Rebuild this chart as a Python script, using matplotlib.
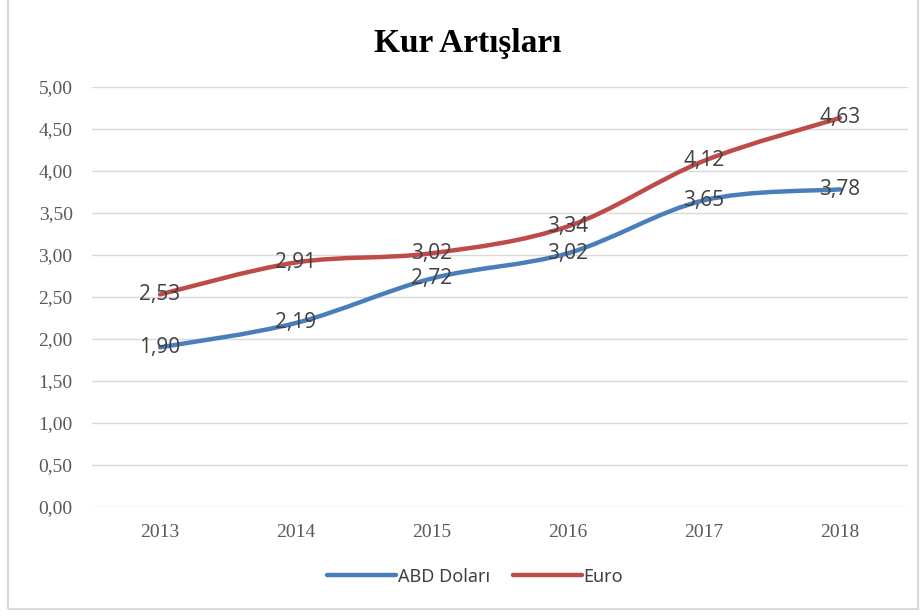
import numpy as np
import matplotlib.pyplot as plt
from matplotlib.path import Path
from matplotlib.patches import PathPatch, Rectangle
from matplotlib.lines import Line2D

years = ["2013", "2014", "2015", "2016", "2017", "2018"]
usd = [1.90, 2.19, 2.72, 3.02, 3.65, 3.78]
eur = [2.53, 2.91, 3.02, 3.34, 4.12, 4.63]
series_names = ["ABD Doları", "Euro"]
yticks = [0.0, 0.5, 1.0, 1.5, 2.0, 2.5, 3.0, 3.5, 4.0, 4.5, 5.0]

BLUE = "#4A7EBB"
RED = "#BE4B48"


def smooth_path(xs, ys):
    # Catmull-Rom style cubic Bezier through the points (like Excel smoothing)
    pts = np.column_stack([xs, ys]).astype(float)
    n = len(pts)
    verts = [pts[0]]
    codes = [Path.MOVETO]
    for i in range(n - 1):
        p0 = pts[i - 1] if i > 0 else pts[i]
        p1 = pts[i]
        p2 = pts[i + 1]
        p3 = pts[i + 2] if i + 2 < n else pts[i + 1]
        c1 = p1 + (p2 - p0) / 6.0
        c2 = p2 - (p3 - p1) / 6.0
        verts += [c1, c2, p2]
        codes += [Path.CURVE4] * 3
    return Path(verts, codes)


fig = plt.figure(figsize=(9.21, 6.16), dpi=100)
ax = fig.add_axes([0.0999, 0.177, 0.886, 0.682])

x = np.arange(len(years))
for vals, col in [(usd, BLUE), (eur, RED)]:
    ax.add_patch(PathPatch(smooth_path(x, vals), facecolor="none", edgecolor=col,
                           lw=3.2, capstyle="round", joinstyle="round", zorder=3))
    for xi, v in zip(x, vals):
        ax.text(xi, v, f"{v:.2f}".replace(".", ","), ha="center", va="center",
                fontsize=15, color="#404040", family="Open Sans", zorder=4)

ax.set_xlim(-0.5, len(years) - 0.5)
ax.set_ylim(0, 5)
ax.set_yticks(yticks)
ax.set_yticklabels([f"{t:.2f}".replace(".", ",") for t in yticks])
ax.set_xticks(x)
ax.set_xticklabels(years)
for lab in ax.get_xticklabels() + ax.get_yticklabels():
    lab.set_family("Liberation Serif")
    lab.set_fontsize(14)
    lab.set_color("#595959")
ax.tick_params(length=0, pad=14)
ax.tick_params(axis="x", pad=12)
ax.grid(axis="y", color="#D9D9D9", lw=1)
ax.set_axisbelow(True)
for s in ax.spines.values():
    s.set_visible(False)

fig.text(0.508, 0.930, "Kur Artışları", ha="center", va="center",
         fontsize=24, fontweight="bold", family="Liberation Serif")

handles = [Line2D([], [], color=BLUE, lw=3.2, solid_capstyle="round"),
           Line2D([], [], color=RED, lw=3.2, solid_capstyle="round")]
leg = fig.legend(handles, series_names, loc="center", bbox_to_anchor=(0.516, 0.064),
                 ncol=2, frameon=False, handlelength=3.8, handletextpad=0.1,
                 columnspacing=1.3, prop={"family": "Noto Sans", "size": 13})
for t in leg.get_texts():
    t.set_color("#404040")

fig.patches.append(Rectangle((0.009, 0.012), 0.988, 0.995, transform=fig.transFigure,
                             fill=False, edgecolor="#D9D9D9", lw=1.5))

fig.savefig("out.png", dpi=100)
